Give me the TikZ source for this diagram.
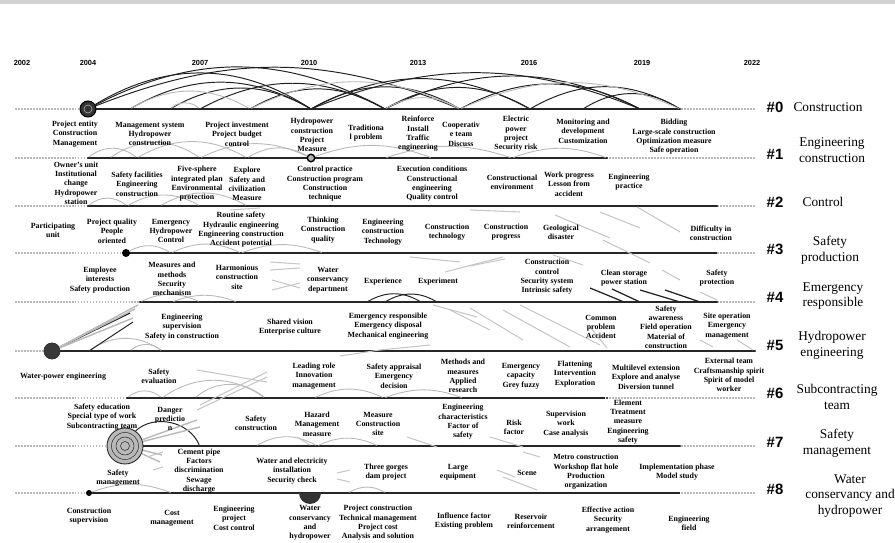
\documentclass[tikz,border=0pt]{standalone}
\usepackage{fontspec}
\setmainfont{Liberation Serif}
\newfontfamily\numfont{Liberation Sans}

\begin{document}
\begin{tikzpicture}[x=0.02cm, y=-0.02cm,
  track/.style={gray!55, line width=0.9pt, dash pattern=on 1pt off 0.7pt},
  spine/.style={black!85, line width=1.3pt},
  dot/.style={circle, fill=black!85, inner sep=0pt, minimum size=0.045cm},
  arcd/.style={gray!25!black, line width=0.55pt},
  arcl/.style={gray!55, line width=0.5pt},
  faint/.style={gray!45, line width=0.6pt},
  lbl/.style={font=\bfseries\fontsize{4.5}{5.3}\selectfont, align=center, inner sep=0pt},
  clu/.style={font=\fontsize{7.6}{8.9}\selectfont, align=center, inner sep=0pt},
  hash/.style={font=\numfont\bfseries\fontsize{8.5}{9}\selectfont, inner sep=0pt},
  yr/.style={font=\numfont\bfseries\fontsize{4.2}{5}\selectfont, inner sep=0pt}]

  \useasboundingbox (0,0) rectangle (895,543);
  \fill[gray!35] (0,0) rectangle (895,4);

  % years
  \foreach \yr/\x in {2002/22, 2004/88, 2007/200, 2010/309, 2013/418, 2016/529, 2019/642, 2022/752}
    \node[yr] (y\yr) at (\x,63) {\yr};

  % timelines
  \foreach \i/\y/\a/\b in {0/109/88/680, 1/158/88/607, 2/206/88/717, 3/253/126/717, 4/302/140/717,
                           5/351/52/755, 6/398/127/605, 7/446/125/680, 8/493/89/680} {
    \coordinate (r\i-w) at (15,\y);
    \coordinate (r\i-a) at (\a,\y);
    \coordinate (r\i-b) at (\b,\y);
    \coordinate (r\i-e) at (755,\y);
    \draw[track] (r\i-w) -- (r\i-e);
    \draw[spine] (r\i-a) -- (r\i-b);
  }

  % cluster names
  \foreach \i/\hy/\cx/\cy/\txt in {0/107/828/107/{Construction}, 1/154/832/150/{Engineering\\construction},
      2/202/823/202/{Control}, 3/249/830/250/{Safety\\production}, 4/297/833/296/{Emergency\\responsible},
      5/345/832/345/{Hydropower\\engineering}, 6/393/837/397/{Subcontracting\\team},
      7/442/837/443/{Safety\\management}, 8/489/850/496/{Water\\conservancy and\\hydropower}} {
    \node[hash] (h\i) at (775,\hy) {\#\i};
    \node[clu] (c\i) at (\cx,\cy) {\txt};
  }

  % keyword dots
  \foreach \i/\y/\xs in {0/109/{130,170,200,250,311,385,460,530,583,640,680},
      1/158/{88,110,127,137,200,237,247,385,432,512,569,607},
      2/206/{88,127,160,200,247,311,385,432,512,569,629,717},
      3/253/{171,200,241,300,323,383,447,506,561,711},
      4/302/{140,172,200,237,328,367,385,421,437,547,624,640,655,680,700,717},
      5/351/{89,130,162,290,388,601,640,666,718,755},
      6/398/{127,162,195,265,290,314,384,463,521,575,607},
      7/446/{200,256,317,378,463,514,566,628,680},
      8/493/{172,234,348,386,458,527,586,677}} {
    \foreach \x in \xs
      \node[dot] (d\i-\x) at (\x,\y) {};
  }

  % large nodes
  \node[circle, fill=gray!40!black, draw=black, line width=0.6pt, minimum size=0.32cm, inner sep=0pt] (d0-88) at (88,109) {};
  \draw[gray!75, line width=0.4pt] (d0-88.center) circle[radius=0.08cm];
  \node[circle, draw=black, fill=gray!60, line width=0.8pt, minimum size=0.15cm, inner sep=0pt] (d1-311) at (311,158) {};
  \node[circle, fill=black, minimum size=0.16cm, inner sep=0pt] (d3-126) at (126,253) {};
  \node[circle, fill=gray!45!black, draw=black!80, line width=0.5pt, minimum size=0.32cm, inner sep=0pt] (d5-52) at (52,351) {};
  \node[circle, fill=gray!55, draw=gray!30!black, line width=0.5pt, minimum size=0.72cm, inner sep=0pt] (d7-125) at (125,446) {};
  \foreach \r in {0.27,0.18,0.09}
    \draw[gray!35!black, line width=0.3pt] (d7-125.center) circle[radius=\r cm];
  \node[circle, fill=black, minimum size=0.12cm, inner sep=0pt] (d8-89) at (89,493) {};
  \begin{scope}
    \clip (297,493) rectangle (323,506);
    \node[circle, fill=gray!40!black, minimum size=0.44cm, inner sep=0pt] (d8-310) at (310,493) {};
  \end{scope}

  % citation arcs
  \foreach \i/\a/\b/\h in {0/88/311/32, 0/88/385/28, 0/88/460/22, 0/130/311/30, 0/170/311/30,
      0/200/385/28, 0/250/385/30, 0/311/460/30, 0/311/530/28, 0/385/530/30, 0/385/640/26,
      0/460/640/28, 0/530/680/30, 0/583/680/32, 0/311/640/22, 4/367/421/30, 4/385/437/30,
      7/125/200/55}
    \draw[arcd] (d\i-\a) to[bend left=\h] (d\i-\b);
  \foreach \i/\a/\b/\h in {0/250/460/26, 0/460/680/24, 0/385/460/30, 0/130/250/30, 0/170/200/40,
      1/88/137/40, 1/110/200/35, 1/137/247/30, 1/200/311/25, 1/247/311/30, 1/311/432/20,
      1/385/512/18, 1/512/607/20, 2/88/127/40, 2/127/200/30, 2/160/247/30, 3/126/171/30,
      3/171/241/25, 3/241/323/20, 4/140/200/25, 4/172/237/20, 5/89/162/35, 5/130/162/40,
      6/127/162/40, 6/162/265/35, 6/195/265/40, 6/314/384/25, 6/384/463/20, 7/256/317/30,
      7/317/378/25, 8/89/172/20, 8/348/386/30}
    \draw[arcl] (d\i-\a) to[bend left=\h] (d\i-\b);

  % dark links falling onto #4
  \foreach \n/\sx/\sy/\t in {a/590/288/624, b/612/289/640, c/640/290/680, d/665/290/700}{
    \coordinate (k4\n) at (\sx,\sy);
    \draw[arcd, line width=0.7pt] (k4\n) -- (d4-\t);
  }

  % links leaving the big nodes
  \coordinate (f5a) at (130,313);
  \coordinate (f5b) at (135,309);
  \coordinate (f5c) at (138,305);
  \coordinate (f5d) at (133,318);
  \coordinate (f5e) at (133,322);
  \draw[arcd, line width=0.7pt] (d5-52) -- (f5a);
  \foreach \p in {f5b,f5c,f5d}
    \draw[arcl, line width=0.8pt] (d5-52) -- (\p);
  \draw[arcd] (d5-89) -- (f5e);
  \coordinate (g7a) at (197,420);
  \coordinate (g7b) at (200,427);
  \coordinate (g7c) at (162,455);
  \coordinate (g7d) at (160,462);
  \foreach \p in {g7a,g7b,g7c,g7d}
    \draw[arcl, line width=0.8pt] (d7-125) -- (\p);

  % links between clusters
  \foreach \ax/\ay/\bx/\by in {445/272/503/257, 470/266/505/259, 410/257/460/262, 553/255/583/265,
      603/240/650/263, 662/270/680/280, 700/292/717/300,
      637/207/680/232, 600/212/640/228, 470/210/520/212, 270/262/300/264, 270/270/300/268,
      272/280/300/288, 272/290/300/283, 450/310/490/330, 470/308/523/340, 503/310/570/347,
      433/305/477/317, 520/305/600/345, 590/327/607/348, 700/340/713/347, 737/340/753/350,
      197/370/267/382, 197/410/267/377, 200/405/267/372, 297/437/310/445, 407/437/437/447,
      490/437/523/447, 523/452/540/457, 147/457/163/452, 153/470/163/467, 337/473/350/470,
      337/479/350/482, 497/470/515/477, 503/477/537/490, 340/356/380/350, 380/350/430/345,
      555/215/610/238, 230/210/260/208}
    \draw[faint] (\ax,\ay) -- (\bx,\by);

  % keyword labels
  \foreach \x/\y/\txt in {75/134/{Project entity\\Construction\\Management},
      150/134/{Management system\\Hydropower\\construction},
      237/134/{Project investment\\Project budget\\control},
      312/135/{Hydropower\\construction\\Project\\Measure},
      366/133/{Traditiona\\l problem},
      418/134/{Reinforce\\Install\\Traffic\\engineering},
      461/134/{Cooperativ\\e team\\Discuss},
      516/134/{Electric\\power\\project\\Security risk},
      583/131/{Monitoring and\\development\\Customization},
      674/137/{Bidding\\Large-scale construction\\Optimization measure\\Safe operation},
      76/183/{Owner's unit\\Institutional\\change\\Hydropower\\station},
      137/184/{Safety facilities\\Engineering\\construction},
      197/184/{Five-sphere\\integrated plan\\Environmental\\protection},
      247/184/{Explore\\Safety and\\civilization\\Measure},
      325/184/{Control practice\\Construction program\\Construction\\technique},
      432/184/{Execution conditions\\Constructional\\engineering\\Quality control},
      512/182/{Constructional\\environment},
      569/184/{Work progress\\Lesson from\\accident},
      629/182/{Engineering\\practice},
      53/230/{Participating\\unit},
      112/231/{Project quality\\People\\oriented},
      171/231/{Emergency\\Hydropower\\Control},
      241/230/{Routine safety\\Hydraulic engineering\\Engineering construction\\Accident potential},
      323/230/{Thinking\\Construction\\quality},
      383/232/{Engineering\\construction\\Technology},
      447/232/{Construction\\technology},
      506/232/{Construction\\progress},
      561/232/{Geological\\disaster},
      711/233/{Difficulty in\\construction},
      100/280/{Employee\\interests\\Safety production},
      172/279/{Measures and\\methods\\Security\\mechanism},
      237/277/{Harmonious\\construction\\site},
      328/280/{Water\\conservancy\\department},
      383/282/{Experience},
      438/282/{Experiment},
      547/277/{Construction\\control\\Security system\\Intrinsic safety},
      624/278/{Clean storage\\power station},
      717/278/{Safety\\protection},
      182/327/{Engineering\\supervision\\Safety in construction},
      290/327/{Shared vision\\Enterprise culture},
      388/326/{Emergency responsible\\Emergency disposal\\Mechanical engineering},
      601/327/{Common\\problem\\Accident},
      666/327/{Safety\\awareness\\Field operation\\Material of\\construction},
      727/326/{Site operation\\Emergency\\management},
      63/377/{Water-power engineering},
      159/376/{Safety\\evaluation},
      314/376/{Leading role\\Innovation\\management},
      394/376/{Safety appraisal\\Emergency\\decision},
      463/376/{Methods and\\measures\\Applied\\research},
      521/376/{Emergency\\capacity\\Grey fuzzy},
      575/374/{Flattening\\Intervention\\Exploration},
      646/377/{Multilevel extension\\Explore and analyse\\Diversion tunnel},
      729/375/{External team\\Craftsmanship spirit\\Spirit of model\\worker},
      102/417/{Safety education\\Special type of work\\Subcontracting team},
      170/419/{Danger\\predictio\\n},
      256/423/{Safety\\construction},
      317/424/{Hazard\\Management\\measure},
      378/424/{Measure\\Construction\\site},
      463/422/{Engineering\\characteristics\\Factor of\\safety},
      514/427/{Risk\\factor},
      566/424/{Supervision\\work\\Case analysis},
      628/422/{Element\\Treatment\\measure\\Engineering\\safety},
      118/478/{Safety\\management},
      199/471/{Cement pipe\\Factors\\discrimination\\Sewage\\discharge},
      292/471/{Water and electricity\\installation\\Security check},
      386/472/{Three gorges\\dam project},
      458/472/{Large\\equipment},
      527/473/{Scene},
      586/472/{Metro construction\\Workshop flat hole\\Production\\organization},
      677/472/{Implementation phase\\Model study},
      89/516/{Construction\\supervision},
      172/518/{Cost\\management},
      234/518/{Engineering\\project\\Cost control},
      310/523/{Water\\conservancy\\and\\hydropower},
      378/523/{Project construction\\Technical management\\Project cost\\Analysis and solution},
      464/521/{Influence factor\\Existing problem},
      531/521/{Reservoir\\reinforcement},
      608/520/{Effective action\\Security\\arrangement},
      689/523/{Engineering\\field}}
    \node[lbl] (w\x-\y) at (\x,\y) {\txt};
\end{tikzpicture}
\end{document}
